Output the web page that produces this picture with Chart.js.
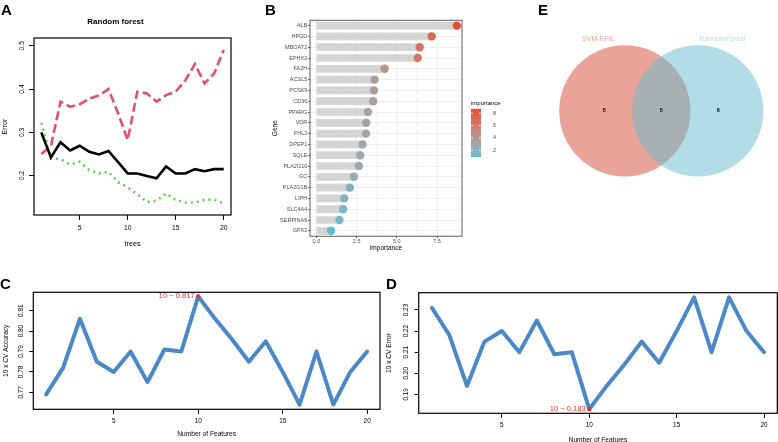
<!DOCTYPE html>
<html>
<head>
<meta charset="utf-8">
<title>Feature selection</title>
<script src="https://cdn.jsdelivr.net/npm/chart.js@4.4.1/dist/chart.umd.min.js"></script>
<style>
  body { margin: 0; background: #fff; }
  #fig { position: relative; width: 778px; height: 442px; overflow: hidden; background: #fff;
         font-family: 'Liberation Sans', Arial, sans-serif; }
  #fig canvas { position: absolute; }
  .tag { position: absolute; font-weight: bold; font-size: 15px; line-height: 15px; color: #000; }
</style>
</head>
<body>
<div id="fig">
  <canvas id="rfChart" width="260" height="252" style="left:0;top:0"></canvas>
  <canvas id="geneChart" width="270" height="256" style="left:260px;top:0"></canvas>
  <canvas id="keyChart" width="40" height="70" style="left:466px;top:95px"></canvas>
  <canvas id="vennChart" width="248" height="250" style="left:530px;top:0"></canvas>
  <canvas id="accChart" width="388" height="157" style="left:0;top:285px"></canvas>
  <canvas id="errChart" width="395" height="162" style="left:383px;top:285px"></canvas>
  <div class="tag" style="left:1px;top:2px">A</div>
  <div class="tag" style="left:265px;top:2px">B</div>
  <div class="tag" style="left:538px;top:2px">E</div>
  <div class="tag" style="left:0;top:276px">C</div>
  <div class="tag" style="left:386px;top:276px">D</div>
</div>
<script>
// panel A - random forest error by number of trees
const trees = [1, 2, 3, 4, 5, 6, 7, 8, 9, 10, 11, 12, 13, 14, 15, 16, 17, 18, 19, 20];
const oobErr = [0.300, 0.242, 0.277, 0.258, 0.269, 0.255, 0.249, 0.257, 0.231, 0.205,
                0.205, 0.199, 0.194, 0.221, 0.205, 0.205, 0.215, 0.210, 0.215, 0.215];
const class1Err = [0.250, 0.268, 0.371, 0.359, 0.365, 0.378, 0.385, 0.400, 0.344, 0.282,
                   0.394, 0.390, 0.371, 0.386, 0.394, 0.420, 0.458, 0.413, 0.436, 0.490];
const class2Err = [0.322, 0.240, 0.238, 0.226, 0.232, 0.213, 0.205, 0.209, 0.185, 0.173,
                   0.157, 0.139, 0.142, 0.159, 0.144, 0.138, 0.138, 0.144, 0.145, 0.135];

// panel B - gene importance
const genes = ['ALB', 'HPGD', 'MBOAT2', 'EPHX2', 'FA2H', 'ACSL5', 'PCSK9', 'CD36', 'PPARG', 'VDR',
               'FHL2', 'DPEP1', 'SQLE', 'PLA2G10', 'GC', 'PLA2G1B', 'LIPH', 'SLC4A4', 'SERPINA6', 'GPX2'];
const importance = [8.73, 7.17, 6.42, 6.30, 4.24, 3.62, 3.58, 3.53, 3.20, 3.10,
                    3.08, 2.87, 2.72, 2.64, 2.33, 2.08, 1.73, 1.66, 1.43, 0.91];
const impTicks = [2, 4, 6, 8];

// panels C / D - SVM-RFE cross validation
const nFeatures = [1, 2, 3, 4, 5, 6, 7, 8, 9, 10, 11, 12, 13, 14, 15, 16, 17, 18, 19, 20];
const cvAccuracy = [0.769, 0.782, 0.806, 0.785, 0.780, 0.790, 0.775, 0.791, 0.790, 0.817,
                    0.806, 0.796, 0.785, 0.795, 0.780, 0.764, 0.790, 0.764, 0.780, 0.790];
const cvError = [0.231, 0.218, 0.194, 0.215, 0.220, 0.210, 0.225, 0.209, 0.210, 0.183,
                 0.194, 0.204, 0.215, 0.205, 0.220, 0.236, 0.210, 0.236, 0.220, 0.210];

// panel E - venn
const vennNames = ['SVM-RFE', 'RandomForest'];
const vennCounts = [5, 5, 6]; // SVM only, both, RF only

const RF = "'Liberation Sans', Arial, sans-serif";
Chart.defaults.font.family = RF;
Chart.defaults.animation = false;
Chart.defaults.events = [];
Chart.defaults.plugins.legend.display = false;
Chart.defaults.plugins.tooltip.enabled = false;

// colour scale of panel B (ggplot interpolates in Lab)
const impMin = Math.min(...importance), impMax = Math.max(...importance);
const lowCol = [92, 190, 211], highCol = [230, 75, 53];
function lin(c) { c /= 255; return c <= 0.04045 ? c / 12.92 : Math.pow((c + 0.055) / 1.055, 2.4); }
function toLab(rgb) {
  const [r, g, b] = rgb.map(lin);
  const f = t => t > 0.008856 ? Math.cbrt(t) : 7.787 * t + 16 / 116;
  const X = f((0.4124 * r + 0.3576 * g + 0.1805 * b) / 0.95047);
  const Y = f(0.2126 * r + 0.7152 * g + 0.0722 * b);
  const Z = f((0.0193 * r + 0.1192 * g + 0.9505 * b) / 1.08883);
  return [116 * Y - 16, 500 * (X - Y), 200 * (Y - Z)];
}
function fromLab([L, a, b]) {
  const fy = (L + 16) / 116, fx = fy + a / 500, fz = fy - b / 200;
  const inv = t => t * t * t > 0.008856 ? t * t * t : (t - 16 / 116) / 7.787;
  const X = 0.95047 * inv(fx), Y = inv(fy), Z = 1.08883 * inv(fz);
  const g = c => {
    c = c <= 0.0031308 ? 12.92 * c : 1.055 * Math.pow(c, 1 / 2.4) - 0.055;
    return Math.round(Math.min(1, Math.max(0, c)) * 255);
  };
  return 'rgb(' + g(3.2406 * X - 1.5372 * Y - 0.4986 * Z) + ',' + g(-0.9689 * X + 1.8758 * Y + 0.0415 * Z) + ',' +
    g(0.0557 * X - 0.2040 * Y + 1.0570 * Z) + ')';
}
const lowLab = toLab(lowCol), highLab = toLab(highCol);
function impColor(v) {
  const t = (v - impMin) / (impMax - impMin);
  return fromLab(lowLab.map((x, i) => x + (highLab[i] - x) * t));
}

// box around the plot area (R / theme_bw)
Chart.register({
  id: 'box',
  defaults: { show: false, color: '#000', width: 1 },
  afterDatasetsDraw(chart, args, o) {
    if (!o.show) return;
    const a = chart.chartArea, c = chart.ctx;
    c.save();
    c.strokeStyle = o.color;
    c.lineWidth = o.width;
    c.strokeRect(a.left, a.top, a.right - a.left, a.bottom - a.top);
    c.restore();
  }
});

// red marker + label on the best number of features
Chart.register({
  id: 'best',
  defaults: { show: false, mode: 'max' },
  afterDatasetsDraw(chart, args, o) {
    if (!o.show) return;
    const d = chart.data.datasets[0].data;
    const ys = d.map(p => p.y);
    const v = o.mode === 'max' ? Math.max(...ys) : Math.min(...ys);
    const p = d[ys.indexOf(v)];
    const x = chart.scales.x.getPixelForValue(p.x), y = chart.scales.y.getPixelForValue(p.y);
    const c = chart.ctx;
    c.save();
    c.fillStyle = '#E8332A';
    c.beginPath(); c.arc(x, y, 2.2, 0, Math.PI * 2); c.fill();
    c.font = '7.6px ' + RF;
    c.textAlign = 'right';
    c.textBaseline = 'middle';
    c.fillText(p.x + ' \u2212 ' + v.toFixed(3), x - 3.5, y);
    c.restore();
  }
});

// white ticks drawn over the colour bar
Chart.register({
  id: 'keyTicks',
  defaults: { show: false },
  afterDatasetsDraw(chart, args, o) {
    if (!o.show) return;
    const a = chart.chartArea, c = chart.ctx, w = (a.right - a.left) / 5;
    c.save();
    c.strokeStyle = '#fff';
    c.lineWidth = 0.8;
    impTicks.forEach(v => {
      const y = chart.scales.y.getPixelForValue(v);
      c.beginPath();
      c.moveTo(a.left, y); c.lineTo(a.left + w, y);
      c.moveTo(a.right - w, y); c.lineTo(a.right, y);
      c.stroke();
    });
    c.restore();
  }
});

// venn labels
const vennRadius = 0.9, vennCentres = [-0.5, 0.5], vennCountX = [-0.78, 0, 0.78];
const vennFill = ['rgba(211,71,51,0.5)', 'rgba(103,187,205,0.5)'];
Chart.register({
  id: 'venn',
  defaults: { show: false },
  afterDatasetsDraw(chart, args, o) {
    if (!o.show) return;
    const { ctx, scales: { x, y } } = chart;
    ctx.save();
    ctx.textAlign = 'center';
    ctx.textBaseline = 'middle';
    ctx.font = '7px ' + RF;
    vennNames.forEach((n, i) => {
      ctx.fillStyle = vennFill[i];
      ctx.fillText(n, x.getPixelForValue(vennCentres[i] + (i ? 0.34 : -0.37)), y.getPixelForValue(vennRadius + 0.09));
    });
    ctx.font = 'bold 5.5px ' + RF;
    ctx.fillStyle = '#000';
    vennCounts.forEach((n, i) => ctx.fillText(n, x.getPixelForValue(vennCountX[i]), y.getPixelForValue(0)));
    ctx.restore();
  }
});

// R base graphics style axis
function rScale(o) {
  const left = o.pos === 'left';
  return {
    type: 'linear', position: o.pos, min: o.min, max: o.max,
    afterBuildTicks: s => { s.ticks = o.ticks.map(v => ({ value: v })); },
    afterFit: s => { if (left) s.width = o.size; else s.height = o.size; },
    grid: { drawOnChartArea: false, drawTicks: true, tickLength: o.tl, tickColor: '#000', tickWidth: 1 },
    border: { display: false },
    ticks: Object.assign({
      font: { size: o.font }, color: '#000', padding: o.pad, autoSkip: false,
      callback: v => o.dec == null ? v : v.toFixed(o.dec)
    }, left ? { minRotation: 90, maxRotation: 90, crossAlign: 'center' } : { maxRotation: 0 }),
    title: {
      display: true, text: o.title, color: '#000', font: { size: o.titleFont },
      padding: left ? { top: o.tpad, bottom: 0 } : { top: 0, bottom: o.tpad }
    }
  };
}
const pts = (xs, ys) => xs.map((x, i) => ({ x: x, y: ys[i] }));

// A
new Chart(document.getElementById('rfChart'), {
  type: 'line',
  data: {
    datasets: [
      { label: 'OOB', data: pts(trees, oobErr), borderColor: '#000', borderWidth: 2.6 },
      { label: '1', data: pts(trees, class1Err), borderColor: '#DF536B', borderWidth: 2.6, borderDash: [9, 4] },
      { label: '2', data: pts(trees, class2Err), borderColor: '#61D04F', borderWidth: 2.6, borderDash: [2, 4] }
    ]
  },
  options: {
    responsive: false,
    layout: { padding: { left: 0, top: 0, right: 29, bottom: 0 } },
    elements: { point: { radius: 0 }, line: { tension: 0, fill: false } },
    plugins: {
      title: { display: true, text: 'Random forest', color: '#000', font: { size: 8, weight: 'bold' }, padding: { top: 17, bottom: 11.4 } },
      box: { show: true, color: '#000', width: 1.2 }
    },
    scales: {
      x: rScale({ pos: 'bottom', min: 0.24, max: 20.76, ticks: [5, 10, 15, 20], size: 37, tl: 5, pad: 4.2, font: 6.8, title: 'trees', titleFont: 7.2, tpad: 3.7 }),
      y: rScale({ pos: 'left', min: 0.109, max: 0.518, ticks: [0.2, 0.3, 0.4, 0.5], dec: 1, size: 34, tl: 5, pad: 2.5, font: 6.8, title: 'Error', titleFont: 7.2, tpad: 0.7 })
    }
  }
});

// B
const isMajor = v => Math.abs(v / 2.5 - Math.round(v / 2.5)) < 1e-6;
new Chart(document.getElementById('geneChart'), {
  type: 'bar',
  data: {
    labels: genes,
    datasets: [
      { type: 'line', indexAxis: 'y', data: importance, showLine: false, pointRadius: 4.2,
        pointBackgroundColor: importance.map(impColor), pointBorderWidth: 0, order: 0 },
      { type: 'bar', indexAxis: 'y', data: importance, backgroundColor: '#D4D4D4', barThickness: 7, order: 1 }
    ]
  },
  options: {
    indexAxis: 'y',
    responsive: false,
    layout: { padding: { left: 0, top: 20.2, right: 68, bottom: 0 } },
    plugins: { box: { show: true, color: '#333', width: 0.8 } },
    scales: {
      x: {
        type: 'linear', min: -0.4, max: 9.05,
        afterFit: s => { s.height = 19.8; },
        ticks: { stepSize: 1.25, includeBounds: false, autoSkip: false, maxRotation: 0, font: { size: 5.5 }, color: '#4D4D4D', padding: 0,
                 callback: v => isMajor(v) ? v.toFixed(1) : '' },
        grid: { color: '#EBEBEB', lineWidth: c => c.tick && isMajor(c.tick.value) ? 0.8 : 0.4, tickLength: 2,
                tickColor: c => c.tick && isMajor(c.tick.value) ? '#333' : 'rgba(0,0,0,0)', tickWidth: 0.7 },
        border: { display: false },
        title: { display: true, text: 'importance', color: '#000', font: { size: 6.5 }, padding: { top: 0, bottom: 4.1 } }
      },
      y: {
        type: 'category',
        afterFit: s => { s.width = 50; },
        ticks: { autoSkip: false, font: { size: 5.5 }, color: '#4D4D4D', padding: 0.7 },
        grid: { offset: false, color: '#EBEBEB', lineWidth: 0.8, tickLength: 2, tickColor: '#333', tickWidth: 0.7 },
        border: { display: false },
        title: { display: true, text: 'Gene', color: '#000', font: { size: 6.5 }, padding: { top: 11.1, bottom: 0 } }
      }
    }
  }
});

// B colour key
new Chart(document.getElementById('keyChart'), {
  type: 'bar',
  data: {
    labels: [''],
    datasets: [{
      data: [[impMin, impMax]], barPercentage: 1, categoryPercentage: 1, borderWidth: 0,
      backgroundColor: c => {
        const a = c.chart.chartArea;
        if (!a) return impColor(impMax);
        const g = c.chart.ctx.createLinearGradient(0, a.bottom, 0, a.top);
        for (let i = 0; i <= 10; i++) g.addColorStop(i / 10, impColor(impMin + (impMax - impMin) * i / 10));
        return g;
      }
    }]
  },
  options: {
    responsive: false,
    layout: { padding: { left: 5, top: 0, right: 0, bottom: 8 } },
    plugins: {
      title: { display: true, text: 'importance', align: 'start', color: '#000', font: { size: 6, weight: 'normal' }, padding: { top: 4.7, bottom: 1.8 } },
      keyTicks: { show: true }
    },
    scales: {
      x: { display: false },
      y: {
        position: 'right', min: impMin, max: impMax,
        afterBuildTicks: s => { s.ticks = impTicks.map(v => ({ value: v })); },
        afterFit: s => { s.width = 25; },
        grid: { display: false }, border: { display: false },
        ticks: { font: { size: 5.5 }, color: '#4D4D4D', padding: 4 }
      }
    }
  }
});

// E
new Chart(document.getElementById('vennChart'), {
  type: 'scatter',
  data: {
    datasets: [{
      data: vennCentres.map(x => ({ x: x, y: 0 })),
      pointBackgroundColor: vennFill, pointBorderWidth: 0,
      pointRadius: c => { const s = c.chart.scales.x; return s.getPixelForValue(vennRadius) - s.getPixelForValue(0); }
    }]
  },
  options: {
    responsive: false,
    clip: false,
    layout: { padding: 0 },
    plugins: { venn: { show: true } },
    scales: { x: { display: false, min: -1.8, max: 1.6 }, y: { display: false, min: -1.906, max: 1.52 } }
  }
});

// C and D
function cvChart(id, ys, o) {
  return new Chart(document.getElementById(id), {
    type: 'line',
    data: { datasets: [{ data: pts(nFeatures, ys), borderColor: '#4A89C6', borderWidth: 4, borderCapStyle: 'round', borderJoinStyle: 'round' }] },
    options: {
      responsive: false,
      layout: { padding: { left: 0, top: o.top, right: o.right, bottom: 0 } },
      elements: { point: { radius: 0 }, line: { tension: 0, fill: false } },
      plugins: { box: { show: true, color: '#000', width: 1.2 }, best: { show: true, mode: o.mode } },
      scales: {
        x: rScale({ pos: 'bottom', min: 0.24, max: 20.76, ticks: [5, 10, 15, 20], size: o.xh, tl: 4.5, pad: 3.2, font: 6.4, title: 'Number of Features', titleFont: 6.6, tpad: o.xtpad }),
        y: rScale({ pos: 'left', min: o.min, max: o.max, ticks: o.ticks, dec: 2, size: o.yw, tl: 4, pad: o.ypad, font: 6.4, title: o.title, titleFont: 6.6, tpad: o.ytpad })
      }
    }
  });
}
cvChart('accChart', cvAccuracy, { mode: 'max', top: 7.3, right: 8, xh: 32.7, xtpad: 3.7, yw: 33.3, ypad: 1.6, ytpad: 2.3,
  min: 0.7617, max: 0.819, ticks: [0.77, 0.78, 0.79, 0.80, 0.81], title: '10 x CV Accuracy' });
cvChart('errChart', cvError, { mode: 'min', top: 7.7, right: 0.7, xh: 33.7, xtpad: 3.0, yw: 35.7, ypad: 2.0, ytpad: 2.5,
  min: 0.181, max: 0.2382, ticks: [0.19, 0.20, 0.21, 0.22, 0.23], title: '10 x CV Error' });
</script>
</body>
</html>
